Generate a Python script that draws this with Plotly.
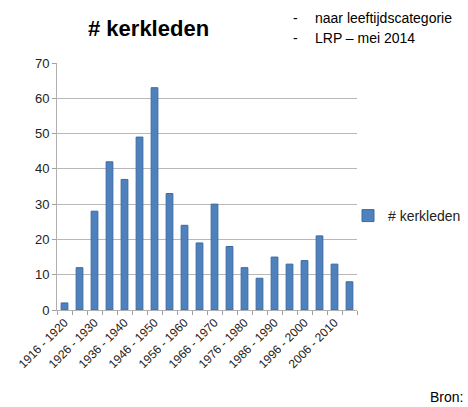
import plotly.graph_objects as go

categories = ["1916 - 1920", "1921 - 1925", "1926 - 1930", "1931 - 1935", "1936 - 1940",
              "1941 - 1945", "1946 - 1950", "1951 - 1955", "1956 - 1960", "1961 - 1965",
              "1966 - 1970", "1971 - 1975", "1976 - 1980", "1981 - 1985", "1986 - 1990",
              "1991 - 1995", "1996 - 2000", "2001 - 2005", "2006 - 2010", "2011 - 2015"]
kerkleden = [2, 12, 28, 42, 37, 49, 63, 33, 24, 19, 30, 18, 12, 9, 15, 13, 14, 21, 13, 8]
tick_text = [c if i % 2 == 0 else "" for i, c in enumerate(categories)]
y_ticks = [0, 10, 20, 30, 40, 50, 60, 70]

FONT = "Liberation Sans"
L, R, T, B = 57, 111, 63, 97
W, H = 468, 407
pw, ph = W - L - R, H - T - B


def px_x(x):
    return (x - L) / pw


def px_y(y):
    return (H - B - y) / ph


fig = go.Figure()
fig.add_trace(go.Bar(
    x=categories, y=kerkleden, name="# kerkleden",
    marker=dict(color="#4f81bd", line=dict(color="#3b6aa3", width=1)),
))

ann_font = dict(family=FONT, size=14, color="black")
fig.update_layout(
    width=W, height=H,
    margin=dict(l=L, r=R, t=T, b=B, autoexpand=False),
    paper_bgcolor="white", plot_bgcolor="white",
    bargap=0.55,
    font=dict(family=FONT, color="#333333", size=12),
    showlegend=True,
    legend=dict(xref="container", yref="container", x=348 / W, y=1 - 216 / H,
                xanchor="left", yanchor="middle", itemwidth=30,
                font=dict(family=FONT, size=14, color="#222222"),
                bgcolor="rgba(0,0,0,0)"),
    xaxis=dict(
        type="category", tickmode="array", tickvals=categories, ticktext=tick_text,
        tickangle=-45, tickson="boundaries", ticks="outside", ticklen=4,
        tickcolor="#a0a0a0", showline=True, linecolor="#b0b0b0",
        showgrid=False, tickfont=dict(size=12, color="#222222"), automargin=False,
    ),
    yaxis=dict(
        range=[0, 70], tickvals=y_ticks, ticks="outside", ticklen=4,
        tickcolor="#a0a0a0", showline=True, linecolor="#b0b0b0",
        showgrid=True, gridcolor="#b8b8b8", gridwidth=1,
        tickfont=dict(size=13, color="#222222"), zeroline=False, automargin=False,
    ),
    annotations=[
        dict(text="<b># kerkleden</b>", x=px_x(148), y=px_y(28), xanchor="center",
             font=dict(family=FONT, size=22, color="black")),
        dict(text="-", x=px_x(295), y=px_y(18), xanchor="center", font=ann_font),
        dict(text="naar leeftijdscategorie", x=px_x(313), y=px_y(18), xanchor="left",
             font=ann_font),
        dict(text="-", x=px_x(295), y=px_y(38), xanchor="center", font=ann_font),
        dict(text="LRP \u2013 mei 2014", x=px_x(313), y=px_y(38), xanchor="left",
             font=ann_font),
        dict(text="Bron:", x=px_x(465), y=px_y(397), xanchor="right", font=ann_font),
    ],
)
fig.update_annotations(xref="paper", yref="paper", yanchor="middle", showarrow=False)

fig.write_html("out.html", config={"displayModeBar": False},
               post_script="document.body.style.margin='0';")
